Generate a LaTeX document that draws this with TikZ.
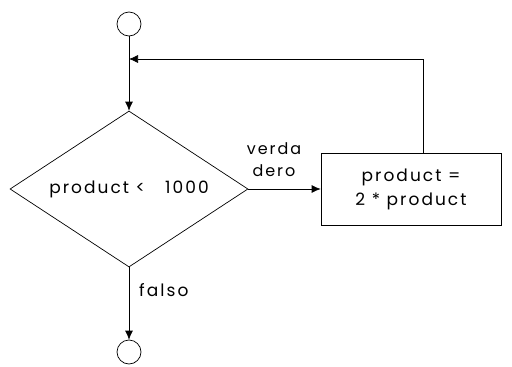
\documentclass[tikz,border=0pt]{standalone}
\usepackage{fontspec}
\setmainfont{Poppins}[LetterSpace=12]
\usetikzlibrary{shapes.geometric,arrows.meta}
\begin{document}
\begin{tikzpicture}[x=1pt,y=-1pt,
  every node/.style={font=\fontsize{17}{24}\selectfont},
  term/.style={circle,draw,line width=0.7pt,minimum size=24pt,inner sep=0pt},
  decision/.style={diamond,draw,line width=0.7pt,minimum width=238pt,minimum height=156pt,inner sep=0pt,shape aspect=1.53},
  procbox/.style={rectangle,draw,line width=0.7pt,minimum width=180pt,minimum height=72pt,align=center,inner sep=0pt},
  flow/.style={line width=0.7pt,-{Latex[length=9pt,width=8pt]}},
  lbl/.style={inner sep=0pt,align=center}]
\useasboundingbox (0,0) rectangle (512,367);
\node[term] (start) at (129,24) {};
\node[decision] (cond) at (129,189) {product {<}\hspace{20pt}1000};
\node[procbox] (proc) at (411,189) {product =\\2 * product};
\node[term] (stop) at (129,352) {};
\coordinate (merge) at (129,59);
\coordinate (corner) at (423,59);
\draw[line width=0.7pt] (start) -- (merge);
\draw[flow] (merge) -- (cond.north);
\draw[flow] (cond.east) -- (proc.west);
\draw[flow] (proc.north -| corner) -- (corner) -- (merge);
\draw[flow] (cond.south) -- (stop);
\node[lbl,font=\fontsize{16}{22}\selectfont] (tlabel) at (274,160) {verda\\dero};
\node[lbl,anchor=west] (flabel) at (139,290) {falso};
\end{tikzpicture}
\end{document}
